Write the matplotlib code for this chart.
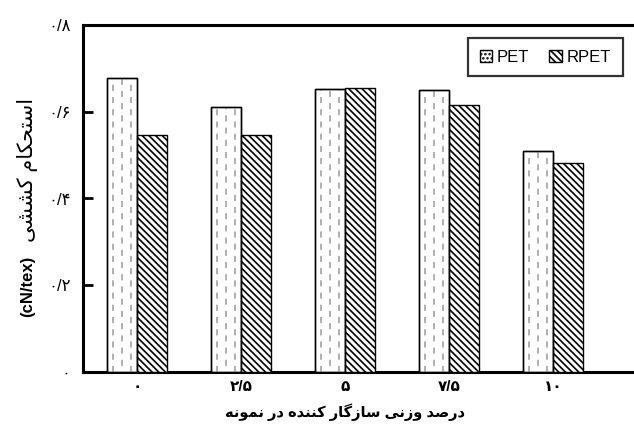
import matplotlib
matplotlib.use("Agg")
import matplotlib.pyplot as plt
import numpy as np
from matplotlib.patches import Patch

# ---------------- data ----------------
categories = ["۰", "۲/۵", "۵", "۷/۵", "۱۰"]
pet_values = [0.678, 0.610, 0.652, 0.650, 0.510]
rpet_values = [0.546, 0.546, 0.654, 0.615, 0.481]
series_names = ["PET", "RPET"]
y_ticks = [0.0, 0.2, 0.4, 0.6, 0.8]
y_tick_labels = ["۰", "۰/۲", "۰/۴", "۰/۶", "۰/۸"]
x_title = "درصد وزنی سازگار کننده در نمونه"
y_title_fa = "استحکام کششی"
y_title_unit = "(cN/tex)"

# ---------------- simple Persian shaping ----------------
FORMS = {  # isolated, final, initial, medial
    "ا": ("\uFE8D", "\uFE8E", None, None),
    "ب": ("\uFE8F", "\uFE90", "\uFE91", "\uFE92"),
    "ت": ("\uFE95", "\uFE96", "\uFE97", "\uFE98"),
    "ح": ("\uFEA1", "\uFEA2", "\uFEA3", "\uFEA4"),
    "د": ("\uFEA9", "\uFEAA", None, None),
    "ر": ("\uFEAD", "\uFEAE", None, None),
    "ز": ("\uFEAF", "\uFEB0", None, None),
    "س": ("\uFEB1", "\uFEB2", "\uFEB3", "\uFEB4"),
    "ش": ("\uFEB5", "\uFEB6", "\uFEB7", "\uFEB8"),
    "ص": ("\uFEB9", "\uFEBA", "\uFEBB", "\uFEBC"),
    "م": ("\uFEE1", "\uFEE2", "\uFEE3", "\uFEE4"),
    "ن": ("\uFEE5", "\uFEE6", "\uFEE7", "\uFEE8"),
    "ه": ("\uFEE9", "\uFEEA", "\uFEEB", "\uFEEC"),
    "و": ("\uFEED", "\uFEEE", None, None),
    "ک": ("\uFB8E", "\uFB8F", "\uFB90", "\uFB91"),
    "گ": ("\uFB92", "\uFB93", "\uFB94", "\uFB95"),
    "ی": ("\uFBFC", "\uFBFD", "\uFBFE", "\uFBFF"),
}


def shape(text):
    out = []
    n = len(text)
    for i, ch in enumerate(text):
        if ch not in FORMS:
            out.append(ch)
            continue
        prev = text[i - 1] if i > 0 else None
        nxt = text[i + 1] if i < n - 1 else None
        join_prev = prev in FORMS and FORMS[prev][2] is not None
        join_next = FORMS[ch][2] is not None and nxt in FORMS
        iso, fin, ini, med = FORMS[ch]
        if join_prev and join_next:
            out.append(med)
        elif join_prev:
            out.append(fin)
        elif join_next:
            out.append(ini)
        else:
            out.append(iso)
    return "".join(out)[::-1]


# ---------------- figure ----------------
plt.rcParams["font.family"] = ["Liberation Sans", "DejaVu Sans"]
plt.rcParams["hatch.linewidth"] = 1.2
fig = plt.figure(figsize=(6.34, 4.4), dpi=100)
ax = fig.add_axes([83 / 634, 68 / 440, 1 - 83 / 634, 347 / 440])

x = np.arange(len(categories))
w = 0.29
pet_bars = ax.bar(x - w / 2, pet_values, w, facecolor="white",
                  edgecolor="black", linewidth=1.0, zorder=3)
rpet_bars = ax.bar(x + w / 2, rpet_values, w, facecolor="white",
                   edgecolor="black", linewidth=1.0, hatch="\\\\\\\\\\",
                   zorder=3)

# dashed gray decoration inside PET bars (derived from bar geometry)
for bar in pet_bars:
    bx, bw, bh = bar.get_x(), bar.get_width(), bar.get_height()
    for k, frac in enumerate([0.2, 0.5, 0.8]):
        xx = bx + frac * bw
        ln, = ax.plot([xx, xx], [0, bh], color="#9a9a9a", lw=1.1,
                      linestyle=(0 if k % 2 == 0 else 4, (4, 4)),
                      zorder=3.5)
        ln.set_dash_capstyle("butt")
        ln.set_clip_path(bar)
# redraw outlines on top
for bar in list(pet_bars):
    ax.bar(bar.get_x() + bar.get_width() / 2, bar.get_height(), bar.get_width(),
           facecolor="none", edgecolor="black", linewidth=1.0, zorder=4)

ax.set_xlim(-0.519, 4.779)
ax.set_ylim(0, 0.8)
ax.set_yticks(y_ticks)
ax.set_yticklabels(y_tick_labels)
ax.set_xticks(x)
ax.set_xticklabels(categories, fontweight="bold")
ax.tick_params(axis="y", direction="in", length=7, width=2.0, pad=9,
               labelsize=12)
ax.tick_params(axis="x", length=0, pad=6, labelsize=11)

for s in ["left", "bottom", "top"]:
    ax.spines[s].set_linewidth(2.2)
ax.spines["right"].set_visible(False)

fig.text(345 / 634, 1 - 412 / 440, shape(x_title), ha="center", va="center",
         fontsize=10.5, fontweight="bold")
fig.text(28 / 634, 1 - 286 / 440, y_title_unit, rotation=90, ha="center",
         va="center", fontsize=12, fontweight="bold")
fig.text(28 / 634, 1 - 170 / 440, shape(y_title_fa), rotation=90,
         ha="center", va="center", fontsize=15)

handles = [Patch(facecolor="white", edgecolor="black", hatch="....", linewidth=1.0),
           Patch(facecolor="white", edgecolor="black", hatch="\\\\\\\\\\", linewidth=1.0)]
leg = ax.legend(handles, series_names, loc="upper right", ncol=2,
                bbox_to_anchor=(623 / 634, 1 - 38 / 440),
                bbox_transform=fig.transFigure, fontsize=12,
                frameon=True, fancybox=False, handlelength=0.75,
                handleheight=0.75, handletextpad=0.3, columnspacing=1.2,
                borderpad=0.7, borderaxespad=0)
leg.get_frame().set_edgecolor("black")
leg.get_frame().set_linewidth(1.6)

fig.savefig("out.png", dpi=100)
